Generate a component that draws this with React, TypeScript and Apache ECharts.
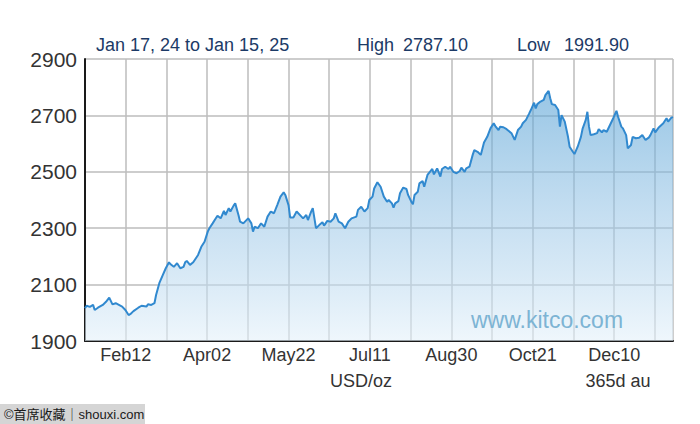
import React, { useEffect, useRef } from "react";
import * as echarts from "echarts";

// Days since Jan 17, 2024 and gold price (USD/oz)
const days = [
  0, 1, 3, 5, 6, 8, 11, 13, 15, 17, 19, 21, 23, 25, 27, 28, 30, 33, 35, 38,
  39, 41, 43, 44, 46, 48, 50, 52, 53, 55, 57, 59, 61, 62, 63, 65, 67, 70, 72, 74,
  76, 77, 79, 81, 82, 84, 86, 87, 89, 90, 92, 93, 95, 96, 98, 101, 103, 104, 105, 107,
  109, 111, 113, 115, 117, 119, 121, 123, 124, 126, 127, 129, 131, 134, 135, 137, 138, 140, 141, 143,
  145, 147, 148, 150, 152, 154, 155, 157, 159, 161, 163, 165, 168, 169, 171, 173, 175, 176, 178, 179,
  181, 183, 185, 187, 188, 190, 191, 192, 194, 195, 197, 199, 200, 202, 203, 204, 206, 207, 209, 210,
  212, 214, 215, 216, 218, 220, 221, 223, 225, 226, 228, 230, 232, 233, 235, 236, 238, 240, 241, 243,
  245, 247, 249, 251, 253, 254, 256, 257, 259, 261, 264, 266, 268, 270, 271, 273, 275, 276, 278, 279,
  280, 282, 284, 285, 287, 288, 289, 291, 293, 294, 295, 297, 299, 300, 302, 303, 305, 307, 308, 310,
  311, 312, 313, 315, 317, 318, 320, 321, 323, 325, 327, 329, 330, 332, 333, 335, 336, 338, 339, 341,
  343, 345, 347, 349, 350, 352, 353, 355, 358, 360, 361, 363, 364,
];
const prices = [
  2016, 2025, 2021, 2028, 2010, 2018, 2028, 2039, 2054, 2030, 2034, 2028, 2022, 2010, 1992, 1995, 2006, 2018, 2025, 2022,
  2030, 2028, 2034, 2063, 2105, 2132, 2158, 2179, 2172, 2163, 2176, 2158, 2163, 2179, 2184, 2170, 2179, 2205, 2234, 2252,
  2288, 2300, 2317, 2335, 2344, 2335, 2361, 2347, 2371, 2359, 2380, 2388, 2347, 2323, 2317, 2335, 2317, 2288, 2305, 2300,
  2317, 2305, 2341, 2359, 2353, 2382, 2412, 2427, 2418, 2382, 2338, 2338, 2359, 2341, 2335, 2347, 2329, 2359, 2371, 2300,
  2311, 2321, 2309, 2326, 2323, 2335, 2353, 2323, 2317, 2300, 2323, 2335, 2341, 2365, 2376, 2359, 2371, 2400, 2412, 2441,
  2463, 2447, 2412, 2394, 2400, 2388, 2373, 2388, 2396, 2424, 2444, 2439, 2418, 2394, 2385, 2418, 2429, 2459, 2467, 2447,
  2489, 2503, 2510, 2491, 2512, 2483, 2510, 2518, 2510, 2518, 2500, 2495, 2503, 2515, 2500, 2512, 2518, 2560, 2577, 2571,
  2560, 2604, 2624, 2654, 2672, 2662, 2648, 2660, 2658, 2651, 2637, 2613, 2648, 2660, 2672, 2684, 2707, 2719, 2745, 2725,
  2740, 2749, 2755, 2772, 2787, 2761, 2740, 2737, 2719, 2660, 2701, 2678, 2624, 2589, 2571, 2563, 2589, 2624, 2652, 2684,
  2713, 2660, 2630, 2633, 2637, 2651, 2640, 2648, 2642, 2666, 2690, 2716, 2695, 2660, 2654, 2630, 2583, 2595, 2624, 2619,
  2621, 2630, 2613, 2621, 2630, 2654, 2640, 2656, 2672, 2690, 2678, 2692, 2694,
];
const xLabels = ["Feb12", "Apr02", "May22", "Jul11", "Aug30", "Oct21", "Dec10"];
const gridStepDays = 25.2;
const yMin = 1900;
const yMax = 2900;
const yStep = 200;

const titleText = "Jan 17, 24 to Jan 15, 25";
const highLabel = "High";
const highValue = "2787.10";
const lowLabel = "Low";
const lowValue = "1991.90";
const unitText = "USD/oz";
const periodText = "365d au";
const watermarkText = "www.kitco.com";
const creditText = "©首席收藏｜shouxi.com";

const FONT = "'Liberation Sans', Arial, sans-serif";

export default function App() {
  const ref = useRef<HTMLDivElement>(null);
  useEffect(() => {
    document.body.style.margin = "0";
    const chart = echarts.init(ref.current!, undefined, { renderer: "svg" });
    const data = days.map((d, i) => [d, prices[i]]);
    chart.setOption({
      animation: false,
      backgroundColor: "#ffffff",
      grid: { left: 85, top: 59, width: 588, height: 282, containLabel: false },
      xAxis: {
        type: "value",
        min: 0,
        max: 364,
        interval: gridStepDays,
        axisLine: { show: true, lineStyle: { color: "#1a1a1a", width: 2 } },
        axisTick: { show: false },
        splitLine: { show: true, lineStyle: { color: "#bdbdbd", width: 1.5 } },
        axisLabel: {
          show: true,
          margin: 5,
          fontSize: 18,
          fontFamily: FONT,
          color: "#333333",
          showMinLabel: true,
          showMaxLabel: true,
          formatter: (v: number) => {
            const k = Math.round(v / gridStepDays);
            if (Math.abs(v - k * gridStepDays) > 0.5) return "";
            if (k % 2 === 1) {
              const idx = (k - 1) / 2;
              return xLabels[idx] ?? "";
            }
            return "";
          },
        },
      },
      yAxis: {
        type: "value",
        min: yMin,
        max: yMax,
        interval: yStep,
        axisLine: { show: true, lineStyle: { color: "#1a1a1a", width: 2 } },
        axisTick: { show: false },
        splitLine: { show: true, lineStyle: { color: "#bdbdbd", width: 1.5 } },
        axisLabel: {
          margin: 8,
          fontSize: 21,
          fontFamily: FONT,
          color: "#333333",
          formatter: (v: number) => String(Math.round(v)),
        },
      },
      series: [
        {
          type: "line",
          data,
          showSymbol: false,
          smooth: false,
          lineStyle: { color: "#3189cf", width: 2 },
          areaStyle: {
            color: new echarts.graphic.LinearGradient(0, 0, 0, 1, [
              { offset: 0, color: "rgba(84,160,212,0.85)" },
              { offset: 0.5, color: "rgba(150,196,230,0.78)" },
              { offset: 1, color: "rgba(228,241,250,0.85)" },
            ]),
          },
          z: 3,
        },
      ],
      graphic: [
        {
          type: "text",
          left: 96,
          top: 36,
          style: { text: titleText, fontSize: 18, fontFamily: FONT, fill: "#1c3a66" },
        },
        {
          type: "text",
          left: 357,
          top: 36,
          style: { text: highLabel, fontSize: 18, fontFamily: FONT, fill: "#1c3a66" },
        },
        {
          type: "text",
          left: 403,
          top: 36,
          style: { text: highValue, fontSize: 18, fontFamily: FONT, fill: "#1c3a66" },
        },
        {
          type: "text",
          left: 517,
          top: 36,
          style: { text: lowLabel, fontSize: 18, fontFamily: FONT, fill: "#1c3a66" },
        },
        {
          type: "text",
          left: 564,
          top: 36,
          style: { text: lowValue, fontSize: 18, fontFamily: FONT, fill: "#1c3a66" },
        },
        {
          type: "text",
          x: 361,
          y: 381,
          style: {
            text: unitText,
            fontSize: 18,
            fontFamily: FONT,
            fill: "#333333",
            align: "center",
            verticalAlign: "middle",
          },
        },
        {
          type: "text",
          x: 618,
          y: 381,
          style: {
            text: periodText,
            fontSize: 18,
            fontFamily: FONT,
            fill: "#333333",
            align: "center",
            verticalAlign: "middle",
          },
        },
        {
          type: "text",
          x: 547,
          y: 320,
          z: 10,
          style: {
            text: watermarkText,
            fontSize: 23,
            fontFamily: FONT,
            fill: "#7db4d4",
            align: "center",
            verticalAlign: "middle",
          },
        },
        {
          type: "rect",
          shape: { x: 0, y: 404, width: 145, height: 20 },
          style: { fill: "#d5d5d5" },
        },
        {
          type: "text",
          x: 4,
          y: 414,
          style: {
            text: creditText,
            fontSize: 13,
            fontFamily: "'Liberation Sans', 'Noto Sans CJK SC', sans-serif",
            fill: "#1a1a1a",
            align: "left",
            verticalAlign: "middle",
          },
        },
      ],
    });
    return () => chart.dispose();
  }, []);
  return (
    <div
      ref={ref}
      style={{ position: "fixed", left: 0, top: 0, width: 700, height: 424 }}
    />
  );
}
